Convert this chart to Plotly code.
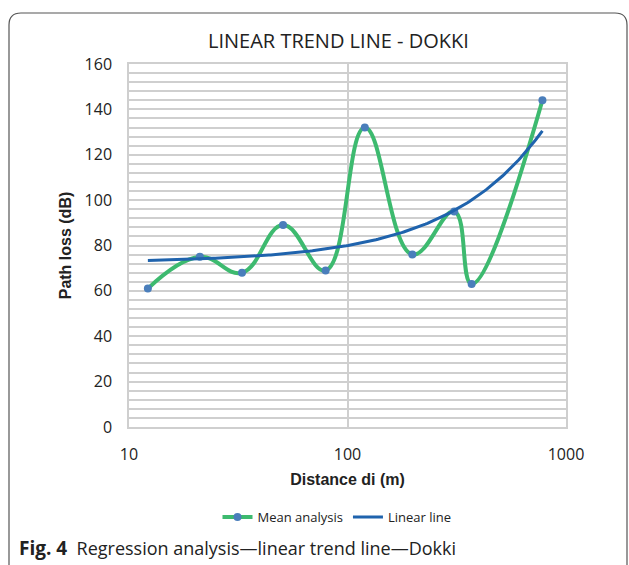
import numpy as np
import plotly.graph_objects as go

# Data
distance_m = [12.2, 21.1, 32.9, 50.7, 79.4, 120, 198, 308, 370, 780]
path_loss_db = [61, 75, 68, 89, 69, 132, 76, 95, 63, 144]
y_ticks = [0, 20, 40, 60, 80, 100, 120, 140, 160]
x_ticks = [10, 100, 1000]

# Linear trend line (least squares fit, as in the spreadsheet)
slope, intercept = np.polyfit(distance_m, path_loss_db, 1)
trend_x = np.geomspace(distance_m[0], distance_m[-1], 200)
trend_y = intercept + slope * trend_x

W, H = 629, 565
ML, MR, MT, MB = 129, 63, 64, 138
PW, PH = W - ML - MR, H - MT - MB


def px(x):
    return (x - ML) / PW


def py(y):
    return (H - MB - y) / PH


REG = "Open Sans, Liberation Sans, sans-serif"
BOLD = "Liberation Sans, Arial, sans-serif"

fig = go.Figure()
fig.add_trace(go.Scatter(
    x=distance_m, y=path_loss_db, name="Mean analysis",
    mode="lines+markers", line=dict(color="#3dba6f", width=4, shape="spline", smoothing=1.2),
    marker=dict(color="#4a7ebb", size=8),
))
fig.add_trace(go.Scatter(
    x=trend_x, y=trend_y, name="Linear line", mode="lines",
    line=dict(color="#1f63ad", width=3),
))

grid = "#cfcfcf"
fig.update_xaxes(
    type="log", range=[1, 3], tickvals=x_ticks, ticktext=[str(v) for v in x_ticks],
    showgrid=True, gridcolor=grid, gridwidth=1.5,
    showline=True, linecolor=grid, linewidth=1.5, mirror=True,
    ticks="outside", ticklen=12, tickcolor="rgba(0,0,0,0)",
    tickfont=dict(family=REG, size=16, color="#222"),
    title=dict(text="<b>Distance di (m)</b>", font=dict(family=BOLD, size=16, color="#222"), standoff=10),
    zeroline=False,
)
fig.update_yaxes(
    range=[0, 160], tickvals=y_ticks,
    showgrid=True, gridcolor=grid, gridwidth=1.5,
    minor=dict(dtick=4, showgrid=True, gridcolor=grid, gridwidth=1.5),
    showline=True, linecolor=grid, linewidth=1.5, mirror=True,
    ticks="outside", ticklen=12, tickcolor="rgba(0,0,0,0)",
    tickfont=dict(family=REG, size=16, color="#222"),
    title=dict(text="<b>Path loss (dB)</b>", font=dict(family=BOLD, size=16, color="#222"), standoff=9),
    zeroline=False,
)

# Rounded outer frame
x0, y0, x1, y1, r = 9, 13, 627, 600, 12
path = (f"M {px(x0)},{py(y0 + r)} Q {px(x0)},{py(y0)} {px(x0 + r)},{py(y0)} "
        f"L {px(x1 - r)},{py(y0)} Q {px(x1)},{py(y0)} {px(x1)},{py(y0 + r)} "
        f"L {px(x1)},{py(y1)} L {px(x0)},{py(y1)} Z")
fig.add_shape(type="path", path=path, xref="paper", yref="paper",
              line=dict(color="#555", width=1.2), fillcolor="rgba(0,0,0,0)", layer="below")

fig.add_annotation(x=px(338), y=py(40), xref="paper", yref="paper", showarrow=False,
                   xanchor="center", yanchor="middle",
                   text="LINEAR TREND LINE - DOKKI",
                   font=dict(family=REG, size=20, color="#222"))
fig.add_annotation(x=px(17), y=py(548), xref="paper", yref="paper", showarrow=False,
                   xanchor="left", yanchor="middle",
                   text="<b style='font-size:19px'>Fig. 4</b>  Regression analysis—linear trend line—Dokki",
                   font=dict(family=REG, size=18, color="#222"))

fig.update_layout(
    width=W, height=H, margin=dict(l=ML, r=MR, t=MT, b=MB, autoexpand=False),
    paper_bgcolor="white", plot_bgcolor="white",
    showlegend=True,
    legend=dict(orientation="h", x=px(337), y=py(517), xanchor="center", yanchor="middle",
                font=dict(family=REG, size=13, color="#222"), itemwidth=30,
                bgcolor="rgba(0,0,0,0)", tracegroupgap=0, borderwidth=0),
)

fig.write_html("out.html", config={"displayModeBar": False},
               post_script="document.body.style.margin='0';")
